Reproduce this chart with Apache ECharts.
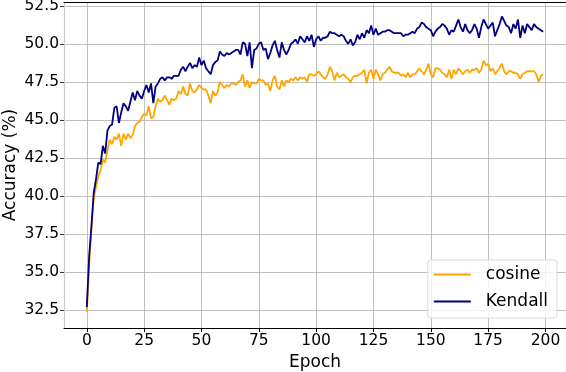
<!DOCTYPE html>
<html>
<head>
<meta charset="utf-8">
<script src="https://cdn.jsdelivr.net/npm/echarts@6/dist/echarts.min.js"></script>
<style>
  html, body { margin: 0; padding: 0; background: #fff; }
  #chart { width: 566px; height: 372px; }
</style>
</head>
<body>
<div id="chart"></div>
<script>
'use strict'

// accuracy per epoch (0..199)
const cosine = [
  32.4, 35.4, 37.8, 39.8, 40.6, 41.3, 41.7, 42.4, 42.2, 43.0,
  43.7, 43.4, 43.9, 43.7, 44.1, 43.3, 44.1, 43.7, 44.1, 43.8,
  44.0, 44.6, 44.8, 44.9, 45.2, 45.4, 45.3, 45.9, 45.1, 45.2,
  45.9, 46.4, 46.2, 46.3, 46.6, 46.3, 46.0, 46.4, 46.3, 46.4,
  46.9, 46.7, 47.2, 46.7, 46.6, 47.4, 46.9, 46.8, 47.0, 47.3,
  47.1, 47.0, 47.0, 46.6, 46.1, 46.9, 46.6, 46.8, 47.5, 47.3,
  47.1, 47.3, 47.2, 47.4, 47.4, 47.3, 47.5, 47.6, 48.0, 47.2,
  47.6, 47.1, 47.5, 47.4, 47.4, 47.7, 47.6, 47.6, 47.3, 47.4,
  46.9, 47.6, 47.9, 47.2, 47.0, 47.6, 47.2, 47.6, 47.5, 47.7,
  47.6, 47.8, 47.6, 47.8, 47.7, 47.8, 47.5, 48.0, 48.0, 47.9,
  48.0, 48.2, 48.0, 47.8, 47.7, 48.0, 48.5, 48.2, 47.6, 48.1,
  47.8, 47.9, 48.0, 47.8, 47.7, 47.5, 47.8, 47.9, 47.9, 48.0,
  48.1, 48.3, 47.4, 48.1, 48.3, 47.7, 48.3, 48.0, 47.6, 48.0,
  48.1, 48.3, 48.5, 48.2, 48.1, 48.1, 48.1, 47.9, 48.0, 47.8,
  48.1, 47.8, 48.0, 48.0, 48.2, 48.4, 48.2, 48.0, 48.3, 48.7,
  48.0, 47.8, 48.4, 48.4, 48.3, 48.1, 48.0, 47.8, 48.3, 47.7,
  48.3, 48.0, 48.4, 48.2, 48.0, 48.2, 48.3, 48.1, 48.3, 48.3,
  48.4, 48.1, 48.3, 48.9, 48.6, 48.7, 48.2, 48.4, 48.0, 48.2,
  48.4, 48.7, 48.2, 48.0, 48.2, 48.2, 48.1, 48.1, 48.0, 47.7,
  48.0, 48.1, 48.2, 48.2, 48.2, 48.2, 48.0, 47.5, 47.9, 48.0
];

const kendall = [
  32.7, 36.0, 38.0, 40.2, 41.1, 42.2, 42.1, 43.3, 42.8, 44.3,
  44.6, 44.7, 45.8, 45.9, 44.8, 45.5, 46.1, 45.9, 45.6, 46.2,
  46.8, 46.3, 46.9, 46.6, 46.4, 46.9, 47.3, 46.8, 47.4, 46.1,
  47.2, 47.4, 47.7, 47.8, 47.6, 47.8, 47.8, 47.7, 47.9, 47.9,
  47.9, 48.3, 48.5, 48.2, 48.5, 48.75, 48.4, 48.6, 48.5, 49.1,
  48.6, 48.9, 48.4, 48.2, 48.0, 48.6, 48.8, 48.9, 49.5, 49.3,
  49.2, 49.4, 49.3, 49.4, 49.5, 49.6, 49.6, 49.3, 50.1, 50.0,
  49.2, 50.1, 48.4, 49.6, 49.7, 50.0, 50.1, 49.6, 49.7, 49.0,
  49.4, 49.9, 50.2, 49.6, 49.1, 50.1, 49.6, 49.3, 49.6, 50.0,
  50.1, 50.3, 50.0, 50.5, 50.3, 50.1, 50.5, 50.2, 50.6, 49.8,
  50.3, 50.5, 50.2, 50.4, 50.4, 50.5, 50.8, 50.7, 50.7, 50.6,
  50.5, 50.6, 50.5, 50.2, 50.0, 50.3, 49.9, 50.1, 50.6, 50.3,
  50.7, 50.4, 50.9, 50.7, 51.2, 50.6, 51.0, 50.6, 50.7, 50.8,
  50.8, 50.9, 50.9, 50.8, 50.7, 50.7, 50.7, 50.7, 50.5, 50.6,
  50.6, 50.7, 50.8, 50.7, 51.0, 51.1, 51.4, 51.3, 51.1, 51.0,
  50.9, 50.5, 50.8, 51.0, 51.1, 51.3, 51.2, 51.0, 50.6, 50.9,
  50.8, 51.2, 51.6, 51.1, 50.8, 51.3, 50.9, 50.7, 50.9, 51.3,
  51.0, 50.4, 51.1, 51.6, 51.3, 51.0, 51.2, 51.4, 50.5, 50.9,
  51.3, 51.8, 51.5, 51.2, 51.1, 50.7, 51.3, 51.0, 51.6, 50.4,
  51.2, 50.7, 51.3, 51.1, 50.9, 51.3, 51.1, 51.0, 50.9, 50.8
];

const xTicks = [0, 25, 50, 75, 100, 125, 150, 175, 200];
const yTicks = [32.5, 35.0, 37.5, 40.0, 42.5, 45.0, 47.5, 50.0, 52.5];

const font = 'DejaVu Sans';
const gridLine = { show: true, lineStyle: { color: '#b0b0b0', width: 0.8 } };

const chart = echarts.init(document.getElementById('chart'), null, { renderer: 'canvas' });

const option = {
  animation: false,
  backgroundColor: '#fff',
  grid: { left: 64, right: 0, top: 2, bottom: 44, outerBoundsMode: 'none' },
  legend: {
    orient: 'vertical',
    right: 9,
    bottom: 54,
    padding: [6, 9, 8, 6],
    itemGap: 10,
    itemWidth: 37,
    itemHeight: 2,
    icon: 'rect',
    borderColor: '#d9d9d9',
    borderWidth: 1,
    borderRadius: 3,
    backgroundColor: 'rgba(255,255,255,0.8)',
    textStyle: { fontFamily: font, fontSize: 17, color: '#000', padding: [0, 0, 0, 10] },
    data: ['cosine', 'Kendall']
  },
  xAxis: [{
    type: 'value',
    min: -9.95,
    max: 208.95,
    name: 'Epoch',
    nameLocation: 'middle',
    nameGap: 26,
    nameMoveOverlap: false,
    nameTextStyle: { fontFamily: font, fontSize: 17, color: '#000' },
    axisLine: { show: true, onZero: false, lineStyle: { color: '#000', width: 1 } },
    axisTick: { show: true, length: 4, customValues: xTicks, lineStyle: { color: '#000' } },
    axisLabel: { customValues: xTicks, fontFamily: font, fontSize: 15.5, color: '#000', margin: 5 },
    splitLine: gridLine
  }, {
    type: 'value',
    position: 'top',
    min: -9.95,
    max: 208.95,
    axisLine: { show: true, lineStyle: { color: '#000', width: 1.2 } },
    axisTick: { show: false },
    axisLabel: { show: false },
    splitLine: { show: false }
  }],
  yAxis: {
    type: 'value',
    min: 31.33,
    max: 52.75,
    name: 'Accuracy (%)',
    nameLocation: 'middle',
    nameGap: 45,
    nameMoveOverlap: false,
    nameTextStyle: { fontFamily: font, fontSize: 17, color: '#000' },
    axisLine: { show: true, onZero: false, lineStyle: { color: '#cccccc', width: 1.2 } },
    axisTick: { show: true, length: 4, customValues: yTicks, lineStyle: { color: '#333' } },
    axisLabel: {
      customValues: yTicks, fontFamily: font, fontSize: 15.5, color: '#000', margin: 5,
      formatter: v => v.toFixed(1)
    },
    splitLine: gridLine
  },
  series: [
    {
      name: 'cosine',
      type: 'line',
      data: cosine.map((v, i) => [i, v]),
      symbol: 'none',
      color: '#ffa500',
      lineStyle: { width: 1.8, color: '#ffa500' }
    },
    {
      name: 'Kendall',
      type: 'line',
      data: kendall.map((v, i) => [i, v]),
      symbol: 'none',
      color: '#000080',
      lineStyle: { width: 1.8, color: '#000080' }
    }
  ]
};

chart.setOption(option);
</script>
</body>
</html>
